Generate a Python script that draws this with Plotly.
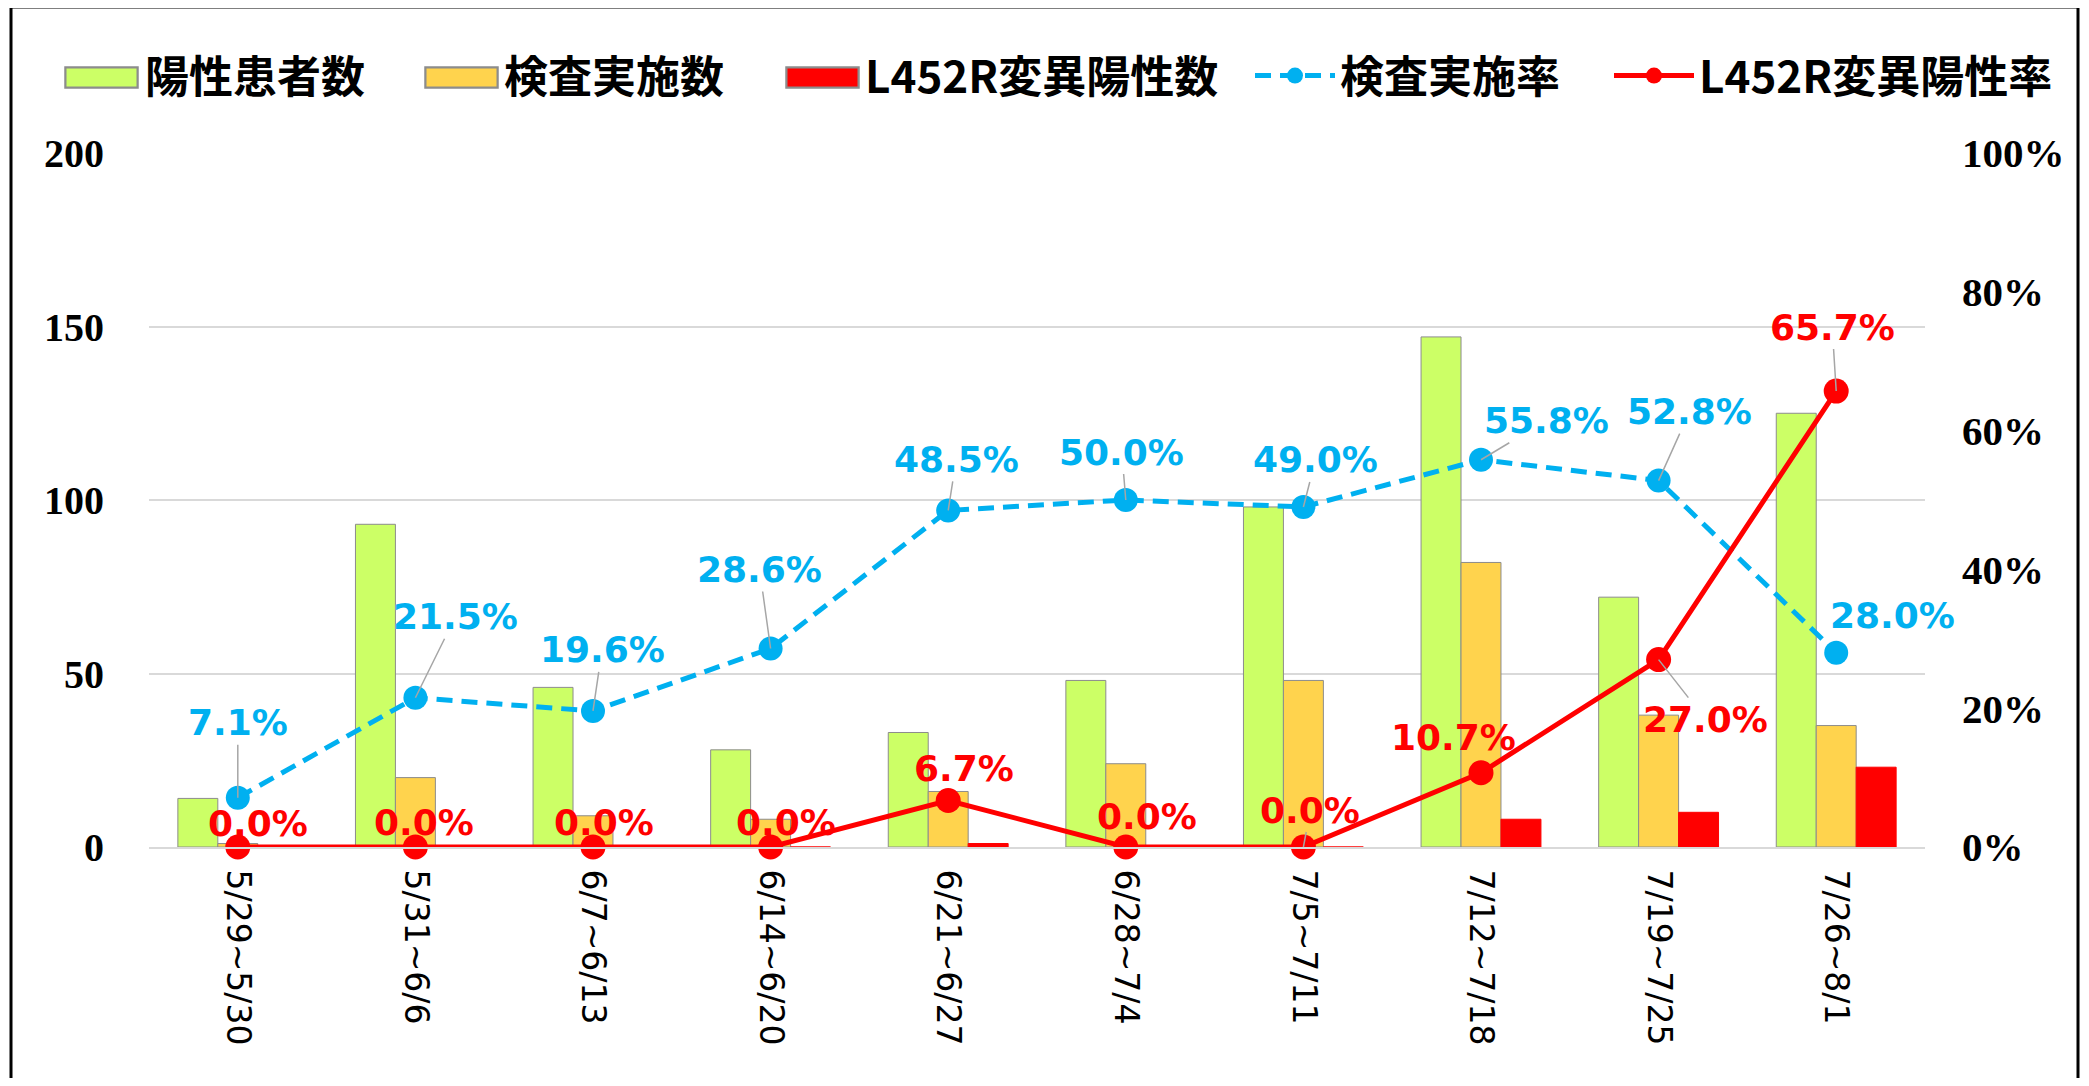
import plotly.graph_objects as go

# ---- data ----
categories = ["5/29~5/30", "5/31~6/6", "6/7~6/13", "6/14~6/20", "6/21~6/27",
              "6/28~7/4", "7/5~7/11", "7/12~7/18", "7/19~7/25", "7/26~8/1"]
positives = [14, 93, 46, 28, 33, 48, 98, 147, 72, 125]
tests = [1, 20, 9, 8, 16, 24, 48, 82, 38, 35]
l452r_pos = [0, 0, 0, 0, 1, 0, 0, 8, 10, 23]
test_rate = [7.1, 21.5, 19.6, 28.6, 48.5, 50.0, 49.0, 55.8, 52.8, 28.0]
l452r_rate = [0.0, 0.0, 0.0, 0.0, 6.7, 0.0, 0.0, 10.7, 27.0, 65.7]

left_ticks = [0, 50, 100, 150, 200]
right_ticks = [0, 20, 40, 60, 80, 100]
right_tick_text = ["0%", "20%", "40%", "60%", "80%", "100%"]

# ---- styles / layout (screen coords include the 8px page margin) ----
BODY = 8
W, H = 2089 - 2 * BODY, 1086 - 2 * BODY
PL, PR, PT, PB = 149, 1925, 153, 847          # plot area on screen
L, T = PL - BODY, PT - BODY
R, B = (W + BODY) - PR, (H + BODY) - PB
pw, ph = PR - PL, PB - PT

GREEN, YELLOW, RED, BLUE = "#CCFF66", "#FFD34D", "#FF0000", "#00B0F0"
OUTLINE = "#8C8C8C"
LABEL_FONT = "DejaVu Sans"
CJK = "Noto Sans CJK JP"


def px_x(sx):
    return (sx - PL) / pw


def px_y(sy):
    return (PB - sy) / ph


blue_offsets = [(0, -75), (40, -81), (9, -61), (-11, -79), (8, -51),
                (-4, -48), (12, -47), (65, -39), (31, -69), (56, -37)]
blue_leader = [True, True, True, True, True, True, True, True, True, False]
red_offsets = [(20, -24), (9, -25), (11, -25), (15, -25), (16, -32),
               (21, -31), (7, -37), (-28, -35), (47, 60), (-4, -64)]
red_leader = [False, False, False, False, False, False, True, False, True, True]

legend_text_x = [147, 506, 867, 1342, 1701]   # screen x where legend text starts
swatch_x = [(65, 138), (425, 498), (786, 859)]  # wide legend swatches for bar series
swatch_y = (67, 88)
ITEMW = 80

fig = go.Figure()
bar_line = dict(color=OUTLINE, width=1)
fig.add_trace(go.Bar(x=categories, y=positives, name="陽性患者数", legend="legend",
                     marker=dict(color=GREEN, line=bar_line)))
fig.add_trace(go.Bar(x=categories, y=tests, name="検査実施数", legend="legend2",
                     marker=dict(color=YELLOW, line=bar_line)))
fig.add_trace(go.Bar(x=categories, y=l452r_pos, name="L452R変異陽性数", legend="legend3",
                     marker=dict(color=RED, line=dict(color=RED, width=1))))
fig.add_trace(go.Scatter(x=categories, y=test_rate, name="検査実施率", yaxis="y2",
                         legend="legend4", mode="lines+markers", cliponaxis=False,
                         line=dict(color=BLUE, width=5, dash="16px,9px"),
                         marker=dict(color=BLUE, size=24)))
fig.add_trace(go.Scatter(x=categories, y=l452r_rate, name="L452R変異陽性率", yaxis="y2",
                         legend="legend5", mode="lines+markers", cliponaxis=False,
                         line=dict(color=RED, width=5),
                         marker=dict(color=RED, size=25)))

annotations = []
for cat, v, (dx, dy), ld in zip(categories, test_rate, blue_offsets, blue_leader):
    annotations.append(dict(x=cat, y=v, xref="x", yref="y2", text=f"{v:.1f}%",
                            showarrow=True, ax=dx, ay=dy, arrowhead=0, arrowwidth=1.5,
                            arrowcolor="#A6A6A6" if ld else "rgba(0,0,0,0)",
                            standoff=0, startstandoff=0,
                            font=dict(family=LABEL_FONT, size=36, color=BLUE, weight="bold")))
for cat, v, (dx, dy), ld in zip(categories, l452r_rate, red_offsets, red_leader):
    annotations.append(dict(x=cat, y=v, xref="x", yref="y2", text=f"{v:.1f}%",
                            showarrow=True, ax=dx, ay=dy, arrowhead=0, arrowwidth=1.5,
                            arrowcolor="#A6A6A6" if ld else "rgba(0,0,0,0)",
                            standoff=0, startstandoff=0,
                            font=dict(family=LABEL_FONT, size=36, color=RED, weight="bold")))

# wide legend swatches (boxes) covering the small default bar symbols
for (x0, x1), col in zip(swatch_x, [GREEN, YELLOW, RED]):
    annotations.append(dict(xref="paper", yref="paper", x=px_x(x0), y=px_y(swatch_y[0]),
                            xanchor="left", yanchor="top", showarrow=False, text=" ",
                            width=x1 - x0 - 3, height=swatch_y[1] - swatch_y[0] - 3,
                            bgcolor=col, bordercolor=OUTLINE, borderwidth=1.5, borderpad=0,
                            font=dict(size=8)))

legend_style = dict(orientation="h", xanchor="left", y=px_y(76), yanchor="middle",
                    font=dict(family=CJK, size=44, color="#000000", weight="bold"),
                    itemwidth=ITEMW, itemsizing="trace", bgcolor="rgba(0,0,0,0)")
legends = {}
for i, tx in enumerate(legend_text_x):
    key = "legend" if i == 0 else f"legend{i + 1}"
    legends[key] = dict(legend_style, x=px_x(tx - ITEMW - 12))

shapes = [dict(type="rect", xref="paper", yref="paper",
               x0=px_x(11), x1=px_x(2078), y0=px_y(1110), y1=px_y(7),
               line=dict(color="#000000", width=3), fillcolor="rgba(0,0,0,0)", layer="below")]
for (x0, x1), col in zip(swatch_x, [GREEN, YELLOW, RED]):
    shapes.append(dict(type="rect", xref="paper", yref="paper",
                       x0=px_x(x0), x1=px_x(x1), y0=px_y(swatch_y[1]), y1=px_y(swatch_y[0]),
                       line=dict(color=OUTLINE, width=1.5), fillcolor=col, layer="above"))

fig.update_layout(
    width=W, height=H,
    margin=dict(l=L, r=R, t=T, b=B, pad=0, autoexpand=False),
    paper_bgcolor="white", plot_bgcolor="white",
    barmode="group", bargap=0.325, bargroupgap=0,
    showlegend=True,
    xaxis=dict(range=[-0.5, len(categories) - 0.5], tickangle=90, showgrid=False,
               showline=True, linecolor="#D9D9D9", linewidth=2,
               ticks="", tickfont=dict(family=LABEL_FONT, size=33, color="#000000"),
               ticklabelstandoff=14, automargin=False),
    yaxis=dict(range=[0, 200], tickvals=left_ticks, showgrid=True, gridcolor="#D9D9D9",
               gridwidth=2, zeroline=False, showline=False, ticks="", automargin=False,
               tickfont=dict(family="Liberation Serif", size=40, color="#000000", weight="bold"),
               ticklabelstandoff=44),
    yaxis2=dict(range=[0, 100], tickvals=right_ticks, ticktext=right_tick_text,
                overlaying="y", side="right", showgrid=False, zeroline=False,
                showline=False, ticks="", automargin=False,
                tickfont=dict(family="Liberation Serif", size=41, color="#000000", weight="bold"),
                ticklabelstandoff=36),
    annotations=annotations,
    shapes=shapes,
    **legends,
)

fig.write_html("out.html")
